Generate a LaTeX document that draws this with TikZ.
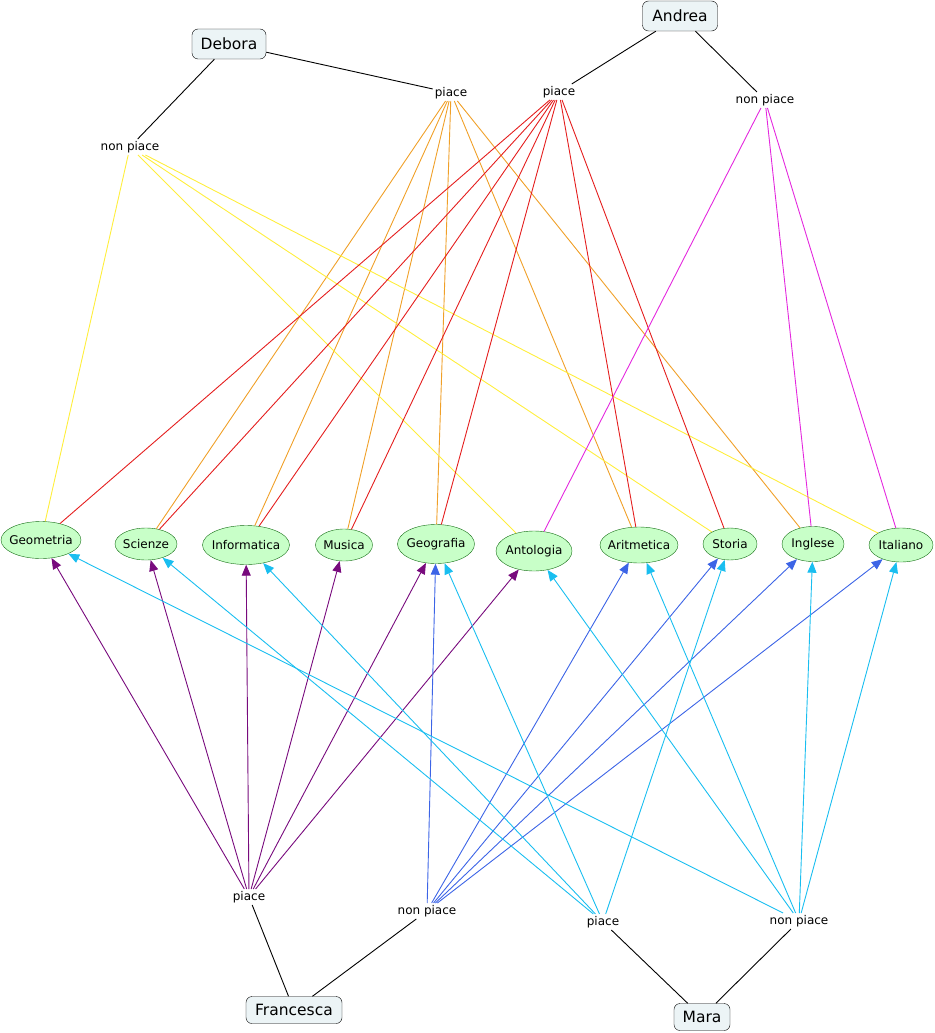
\documentclass[tikz,border=0pt]{standalone}
\usepackage{fontspec}
\setmainfont{DejaVu Sans}
\usepackage{tikz}
\usetikzlibrary{arrows.meta,shapes.geometric}

\definecolor{personfill}{RGB}{236,244,246}
\definecolor{subjfill}{RGB}{200,255,200}
\definecolor{subjline}{RGB}{20,110,20}
\definecolor{debp}{RGB}{240,160,40}
\definecolor{debnp}{RGB}{255,238,60}
\definecolor{andp}{RGB}{228,30,30}
\definecolor{andnp}{RGB}{228,40,222}
\definecolor{franp}{RGB}{120,10,125}
\definecolor{frannp}{RGB}{60,100,230}
\definecolor{marapc}{RGB}{25,190,240}

\begin{document}
\begin{tikzpicture}[x=1pt, y=-1pt,
            person/.style={draw, rounded corners=6pt, fill=personfill, inner sep=0pt, font=\fontsize{15.5}{18}\selectfont},
            subj/.style={ellipse, draw=subjline, fill=subjfill, inner xsep=-6pt, inner ysep=0pt, font=\fontsize{12}{14}\selectfont},
            lbl/.style={inner sep=2pt, font=\fontsize{12}{14}\selectfont},
            ln/.style={line width=0.9pt},
            arr/.style={-{Triangle[length=11pt,width=9pt]}, line width=0.9pt}
        ]
            \useasboundingbox (0,0) rectangle (934,1033);

            % persone
            \node[person, minimum width=74, minimum height=30] (deb) at (229,44) {Debora};
            \node[person, minimum width=75, minimum height=30] (andr) at (680,16) {Andrea};
            \node[person, minimum width=96, minimum height=27] (fran) at (294,1010) {Francesca};
            \node[person, minimum width=56, minimum height=27] (mara) at (702,1017) {Mara};

            % frasi di collegamento
            \node[lbl] (debp) at (451,93) {piace};
            \node[lbl] (debnp) at (130,147) {non piace};
            \node[lbl] (andp) at (559,92) {piace};
            \node[lbl] (andnp) at (765,100) {non piace};
            \node[lbl] (franp) at (249,897) {piace};
            \node[lbl] (frannp) at (427,911) {non piace};
            \node[lbl] (marap) at (603,922) {piace};
            \node[lbl] (maranp) at (799,921) {non piace};

            % materie
            \node[subj, minimum width=80, minimum height=37] (geom) at (41,540) {Geometria};
            \node[subj, minimum width=62, minimum height=32] (sci) at (146,544) {Scienze};
            \node[subj, minimum width=87, minimum height=39] (info) at (246,545) {Informatica};
            \node[subj, minimum width=57, minimum height=32] (mus) at (344,545) {Musica};
            \node[subj, minimum width=77, minimum height=39] (geo) at (436,544) {Geografia};
            \node[subj, minimum width=76, minimum height=40] (anto) at (534,551) {Antologia};
            \node[subj, minimum width=78, minimum height=36] (arit) at (639,545) {Aritmetica};
            \node[subj, minimum width=54, minimum height=32] (stor) at (730,544) {Storia};
            \node[subj, minimum width=62, minimum height=35] (ingl) at (813,544) {Inglese};
            \node[subj, minimum width=64, minimum height=34] (ital) at (901,545) {Italiano};

            % collegamenti persone
            \draw[ln] (deb) -- (debp);
            \draw[ln] (deb) -- (debnp);
            \draw[ln] (andr) -- (andp);
            \draw[ln] (andr) -- (andnp);
            \draw[ln] (fran) -- (franp);
            \draw[ln] (fran) -- (frannp);
            \draw[ln] (mara) -- (marap);
            \draw[ln] (mara) -- (maranp);

            % Debora piace
            \draw[ln, debp] (debp) -- (sci);
            \draw[ln, debp] (debp) -- (info);
            \draw[ln, debp] (debp) -- (mus);
            \draw[ln, debp] (debp) -- (geo);
            \draw[ln, debp] (debp) -- (arit);
            \draw[ln, debp] (debp) -- (ingl);

            % Debora non piace
            \draw[ln, debnp] (debnp) -- (geom);
            \draw[ln, debnp] (debnp) -- (anto);
            \draw[ln, debnp] (debnp) -- (stor);
            \draw[ln, debnp] (debnp) -- (ital);

            % Andrea piace
            \draw[ln, andp] (andp) -- (geom);
            \draw[ln, andp] (andp) -- (sci);
            \draw[ln, andp] (andp) -- (info);
            \draw[ln, andp] (andp) -- (mus);
            \draw[ln, andp] (andp) -- (geo);
            \draw[ln, andp] (andp) -- (arit);
            \draw[ln, andp] (andp) -- (stor);

            % Andrea non piace
            \draw[ln, andnp] (andnp) -- (anto);
            \draw[ln, andnp] (andnp) -- (ingl);
            \draw[ln, andnp] (andnp) -- (ital);

            % Francesca piace
            \draw[arr, franp] (franp) -- (geom);
            \draw[arr, franp] (franp) -- (sci);
            \draw[arr, franp] (franp) -- (info);
            \draw[arr, franp] (franp) -- (mus);
            \draw[arr, franp] (franp) -- (geo);
            \draw[arr, franp] (franp) -- (anto);

            % Francesca non piace
            \draw[arr, frannp] (frannp) -- (geo);
            \draw[arr, frannp] (frannp) -- (arit);
            \draw[arr, frannp] (frannp) -- (stor);
            \draw[arr, frannp] (frannp) -- (ingl);
            \draw[arr, frannp] (frannp) -- (ital);

            % Mara piace
            \draw[arr, marapc] (marap) -- (sci);
            \draw[arr, marapc] (marap) -- (info);
            \draw[arr, marapc] (marap) -- (geo);
            \draw[arr, marapc] (marap) -- (stor);

            % Mara non piace
            \draw[arr, marapc] (maranp) -- (geom);
            \draw[arr, marapc] (maranp) -- (anto);
            \draw[arr, marapc] (maranp) -- (arit);
            \draw[arr, marapc] (maranp) -- (ingl);
            \draw[arr, marapc] (maranp) -- (ital);
        \end{tikzpicture}
\end{document}
